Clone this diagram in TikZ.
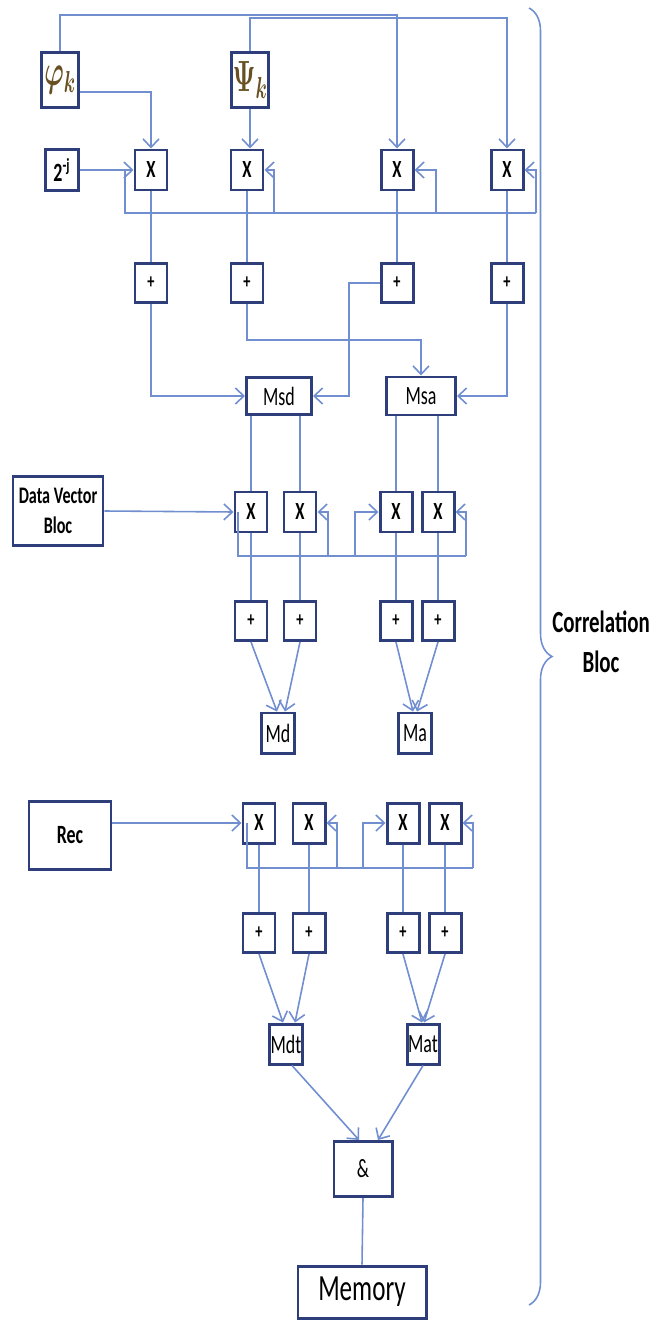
\documentclass[tikz,border=0pt]{standalone}
\usepackage{fontspec}
\setmainfont{Carlito}[FakeStretch=0.68]
\usepackage{tikz}
\usetikzlibrary{arrows.meta,decorations.pathreplacing}
\definecolor{boxblue}{RGB}{46,62,122}
\definecolor{wireblue}{RGB}{112,142,208}
\definecolor{basisgold}{RGB}{105,80,35}
\tikzset{
  unit box/.style={draw=boxblue,line width=1.7pt,inner sep=0pt,align=center},
  op node/.style={unit box,minimum width=6.4mm,minimum height=8mm,font=\fontsize{14}{15}\selectfont\bfseries},
  add node/.style={op node,minimum height=7.8mm,font=\fontsize{12}{13}\selectfont\bfseries},
  acc node/.style={unit box,minimum width=6.6mm,minimum height=8mm,font=\fontsize{15}{16}\selectfont},
  basis node/.style={unit box,minimum width=7.4mm,minimum height=11mm,text=basisgold,font=\fontsize{25}{26}\selectfont\boldmath},
  src node/.style={unit box,font=\fontsize{13.5}{17}\selectfont\bfseries},
  wire/.style={wireblue,line width=0.9pt},
  wire edge/.style={wire,-{Straight Barb[length=1.7mm,width=3.2mm]}},
  corr brace/.style={wireblue,line width=0.9pt,decorate,decoration={brace,amplitude=4.6mm}},
}

\begin{document}
\begin{tikzpicture}[x=0.2mm,y=-0.2mm]
  \useasboundingbox (0,0) rectangle (652,1320);
  \node[basis node] (phi) at (60,80) {\scalebox{0.6}[1]{$\varphi_k$}};
  \node[basis node] (psi) at (250,80) {\scalebox{0.6}[1]{$\Psi_k$}};
  \node[src node,minimum width=6.6mm,minimum height=8.2mm,font=\fontsize{15}{16}\selectfont\bfseries] (scale) at (62,170) {2\textsuperscript{-j}};
  \node[op node] (x1) at (151,170) {X};
  \node[op node] (x2) at (247,170) {X};
  \node[op node] (x3) at (397,170) {X};
  \node[op node] (x4) at (507,170) {X};
  \node[add node] (p1) at (151,283) {+};
  \node[add node] (p2) at (247,283) {+};
  \node[add node] (p3) at (397,283) {+};
  \node[add node] (p4) at (507,283) {+};
  \node[acc node,minimum width=13mm,minimum height=7.4mm] (msd) at (279,396) {Msd};
  \node[acc node,minimum width=13.8mm,minimum height=7.6mm] (msa) at (421,396) {Msa};
  \node[src node,minimum width=18mm,minimum height=13.8mm] (dvb) at (58,511) {Data Vector\\Bloc};
  \node[op node] (xa) at (251,512) {X};
  \node[op node] (xb) at (300,512) {X};
  \node[op node] (xc) at (396,512) {X};
  \node[op node] (xd) at (438,512) {X};
  \node[add node] (pa) at (251,621) {+};
  \node[add node] (pb) at (300,621) {+};
  \node[add node] (pc) at (396,621) {+};
  \node[add node] (pd) at (438,621) {+};
  \node[acc node] (md) at (278,733) {Md};
  \node[acc node] (ma) at (415,733) {Ma};
  \node[src node,minimum width=16.4mm,minimum height=13.6mm,font=\fontsize{15}{16}\selectfont\bfseries] (rec) at (70,835) {Rec};
  \node[op node] (xe) at (259,823) {X};
  \node[op node] (xf) at (309,823) {X};
  \node[op node] (xg) at (403,823) {X};
  \node[op node] (xh) at (445,823) {X};
  \node[add node] (pe) at (259,933) {+};
  \node[add node] (pf) at (309,933) {+};
  \node[add node] (pg) at (403,933) {+};
  \node[add node] (ph) at (445,933) {+};
  \node[acc node] (mdt) at (286,1044) {Mdt};
  \node[acc node,minimum width=6.4mm] (mat) at (423,1044) {Mat};
  \node[acc node,minimum width=11.6mm,minimum height=11mm] (amp) at (363,1169) {\&};
  \node[unit box,minimum width=25.6mm,minimum height=10.4mm,font=\fontsize{21}{22}\selectfont] (mem) at (362,1292) {Memory};
  \node[font=\fontsize{17.5}{23}\selectfont\bfseries,align=center] (corr) at (601,642) {Correlation\\Bloc};

  \coordinate (top1) at (0,15);
  \coordinate (top2) at (0,18);
  \coordinate (fb0) at (125,170);
  \coordinate (fb1) at (125,213);
  \coordinate (fb2) at (274,213);
  \coordinate (fb3) at (436,213);
  \coordinate (fb4) at (536,213);
  \coordinate (j2) at (421,340);
  \coordinate (j3) at (349,340);
  \coordinate (g0) at (238,512);
  \coordinate (g1) at (238,556);
  \coordinate (g2) at (328,556);
  \coordinate (g3) at (355,556);
  \coordinate (g4) at (466,556);
  \coordinate (h0) at (247,823);
  \coordinate (h1) at (247,868);
  \coordinate (h2) at (337,868);
  \coordinate (h3) at (363,868);
  \coordinate (h4) at (473,868);
  \coordinate (bt) at (529,8);
  \coordinate (bb) at (529,1305);

  \draw[wire edge] (phi.north) |- (x3.north |- top1) -- (x3.north);
  \draw[wire edge] (psi.north) |- (x4.north |- top2) -- (x4.north);
  \draw[wire edge] ([yshift=-2.4mm]phi.east) -| (x1.north);
  \draw[wire edge] (psi.south) -- (psi.south |- x2.north);
  \draw[wire edge] (scale.east) -- (x1.west);
  \draw[wire] (fb0) -- (fb1) -- (fb4);
  \draw[wire edge] (fb2) |- (x2.east);
  \draw[wire edge] (fb3) |- (x3.east);
  \draw[wire edge] (fb4) |- (x4.east);
  \foreach \i in {1,...,4}
    \draw[wire] (x\i.south) -- (p\i.north);
  \draw[wire edge] (p1.south) |- (msd.west);
  \draw[wire edge] (p2.south) |- (j2) -- (msa.north);
  \draw[wire edge] (p3.west) -| (j3) |- (msd.east);
  \draw[wire edge] (p4.south) |- (msa.east);

  \draw[wire] (xa.north |- msd.south) -- (xa.north);
  \draw[wire] (xb.north |- msd.south) -- (xb.north);
  \draw[wire] (xc.north |- msa.south) -- (xc.north);
  \draw[wire] (xd.north |- msa.south) -- (xd.north);
  \draw[wire edge] (dvb.east) -- (xa.west);
  \draw[wire] (g0) -- (g1) -- (g4);
  \draw[wire edge] (g2) |- (xb.east);
  \draw[wire edge] (g3) |- (xc.west);
  \draw[wire edge] (g4) |- (xd.east);
  \foreach \c in {a,b,c,d}
    \draw[wire] (x\c.south) -- (p\c.north);
  \draw[wire edge] (pa.south) -- ([xshift=-0.2mm]md.north);
  \draw[wire edge] (pb.south) -- ([xshift=1.4mm]md.north);
  \draw[wire edge] (pc.south) -- ([xshift=-0.4mm]ma.north);
  \draw[wire edge] (pd.south) -- ([xshift=0.4mm]ma.north);

  \draw[wire edge] (rec.east |- xe.west) -- (xe.west);
  \draw[wire] (h0) -- (h1) -- (h4);
  \draw[wire edge] (h2) |- (xf.east);
  \draw[wire edge] (h3) |- (xg.west);
  \draw[wire edge] (h4) |- (xh.east);
  \foreach \c in {e,f,g,h}
    \draw[wire] (x\c.south) -- (p\c.north);
  \draw[wire edge] (pe.south) -- ([xshift=-0.6mm]mdt.north);
  \draw[wire edge] (pf.south) -- ([xshift=1.8mm]mdt.north);
  \draw[wire edge] (pg.south) -- ([xshift=-0.2mm]mat.north);
  \draw[wire edge] (ph.south) -- ([xshift=0.2mm]mat.north);
  \draw[wire edge] ([xshift=1.2mm]mdt.south) -- ([xshift=-0.8mm]amp.north);
  \draw[wire edge] (mat.south) -- ([xshift=3mm]amp.north);
  \draw[wire] (amp.south) -- (mem.north);

  \draw[corr brace] (bt) -- (bb);
\end{tikzpicture}
\end{document}
